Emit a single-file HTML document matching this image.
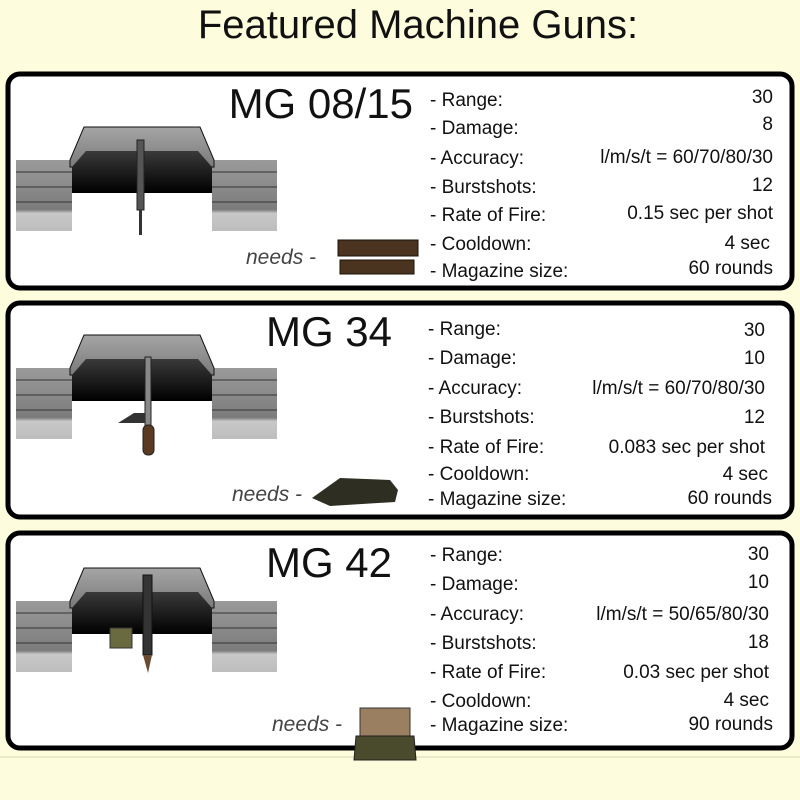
<!DOCTYPE html>
<html><head><meta charset="utf-8"><style>
html,body{margin:0;padding:0;background:#fdfcdc;}
svg{display:block}
text{font-family:"Liberation Sans",sans-serif;fill:#111}
.l{font-size:19px}
.v{font-size:19px;text-anchor:end}
.t{font-size:42px}
.n{font-size:21px;font-style:italic;fill:#444}
</style></head><body>
<svg width="800" height="800" viewBox="0 0 800 800" xmlns="http://www.w3.org/2000/svg">
<defs>
<linearGradient id="dk" x1="0" y1="0" x2="0" y2="1"><stop offset="0" stop-color="#3a3a3a"/><stop offset="1" stop-color="#000"/></linearGradient>
<linearGradient id="wd" x1="0" y1="0" x2="0" y2="1"><stop offset="0" stop-color="#9a9a9a"/><stop offset="0.7" stop-color="#7c7c7c"/><stop offset="0.75" stop-color="#c8c8c8"/><stop offset="1" stop-color="#bdbdbd"/></linearGradient>
<linearGradient id="tp" x1="0" y1="0" x2="0" y2="1"><stop offset="0" stop-color="#a5a5a5"/><stop offset="1" stop-color="#7a7a7a"/></linearGradient>
<g id="trench">
<rect x="0" y="33" width="56" height="71" fill="url(#wd)"/>
<rect x="196" y="33" width="65" height="71" fill="url(#wd)"/>
<g stroke="#333" stroke-width="1"><line x1="0" y1="45" x2="56" y2="45"/><line x1="0" y1="60" x2="56" y2="60"/><line x1="0" y1="75" x2="56" y2="75"/><line x1="196" y1="45" x2="261" y2="45"/><line x1="196" y1="60" x2="261" y2="60"/><line x1="196" y1="75" x2="261" y2="75"/></g>
<polygon points="54,33 68,0 184,0 198,33 198,40 54,40" fill="url(#tp)" stroke="#111"/>
<polygon points="56,40 70,24 182,24 196,40 196,66 56,66" fill="url(#dk)"/>
<rect x="56" y="66" width="140" height="38" fill="#fff"/>
</g>
</defs>
<text x="418" y="38" class="t" text-anchor="middle" style="font-size:40px">Featured Machine Guns:</text>

<rect x="8" y="74" width="784" height="214" rx="12" fill="#fff" stroke="#000" stroke-width="5"/>
<rect x="8" y="303" width="784" height="214" rx="12" fill="#fff" stroke="#000" stroke-width="5"/>
<rect x="8" y="533" width="784" height="215" rx="12" fill="#fff" stroke="#000" stroke-width="5"/>
<line x1="0" y1="757" x2="800" y2="757" stroke="#d8d6b4" stroke-width="1"/>

<!-- Panel 1 -->
<use href="#trench" x="16" y="127"/>
<rect x="137" y="140" width="7" height="70" fill="#555" stroke="#222"/>
<rect x="139" y="210" width="3" height="25" fill="#333"/>
<text x="413" y="118" class="t" text-anchor="end">MG 08/15</text>
<text x="246" y="264" class="n">needs -</text>
<g fill="#4a3420" stroke="#1a1208"><rect x="338" y="240" width="80" height="16"/><rect x="340" y="260" width="74" height="14"/></g>
<text x="430" y="106" class="l">- Range:</text><text x="773" y="103" class="v">30</text>
<text x="430" y="134" class="l">- Damage:</text><text x="773" y="130" class="v">8</text>
<text x="430" y="164" class="l">- Accuracy:</text><text x="773" y="163" class="v">l/m/s/t = 60/70/80/30</text>
<text x="430" y="193" class="l">- Burstshots:</text><text x="773" y="191" class="v">12</text>
<text x="430" y="221" class="l">- Rate of Fire:</text><text x="773" y="219" class="v">0.15 sec per shot</text>
<text x="430" y="250" class="l">- Cooldown:</text><text x="770" y="249" class="v">4 sec</text>
<text x="430" y="277" class="l">- Magazine size:</text><text x="773" y="274" class="v">60 rounds</text>

<!-- Panel 2 -->
<use href="#trench" x="16" y="335"/>
<rect x="145" y="357" width="6" height="70" fill="#888" stroke="#222"/>
<rect x="143" y="425" width="11" height="30" rx="5" fill="#5a3a22" stroke="#222"/>
<polygon points="118,423 134,413 145,413 145,423" fill="#333"/>
<text x="392" y="346" class="t" text-anchor="end">MG 34</text>
<text x="232" y="501" class="n">needs -</text>
<polygon points="312,498 340,478 390,480 398,490 395,502 330,506" fill="#2e2e22"/>
<text x="428" y="335" class="l">- Range:</text><text x="765" y="336" class="v">30</text>
<text x="428" y="364" class="l">- Damage:</text><text x="765" y="364" class="v">10</text>
<text x="428" y="394" class="l">- Accuracy:</text><text x="765" y="394" class="v">l/m/s/t = 60/70/80/30</text>
<text x="428" y="423" class="l">- Burstshots:</text><text x="765" y="423" class="v">12</text>
<text x="428" y="453" class="l">- Rate of Fire:</text><text x="765" y="453" class="v">0.083 sec per shot</text>
<text x="428" y="480" class="l">- Cooldown:</text><text x="768" y="480" class="v">4 sec</text>
<text x="428" y="505" class="l">- Magazine size:</text><text x="772" y="504" class="v">60 rounds</text>

<!-- Panel 3 -->
<use href="#trench" x="16" y="568"/>
<rect x="143" y="575" width="9" height="80" fill="#333" stroke="#111"/>
<polygon points="143,655 152,655 148,673" fill="#6a4a30"/>
<rect x="110" y="628" width="22" height="20" fill="#6a6a40" stroke="#333"/>
<text x="392" y="577" class="t" text-anchor="end">MG 42</text>
<text x="272" y="731" class="n">needs -</text>
<rect x="360" y="708" width="50" height="28" fill="#9a8060" stroke="#333"/>
<polygon points="356,736 414,736 416,760 354,760" fill="#4a4a2c" stroke="#222"/>
<text x="430" y="561" class="l">- Range:</text><text x="769" y="560" class="v">30</text>
<text x="430" y="590" class="l">- Damage:</text><text x="769" y="588" class="v">10</text>
<text x="430" y="620" class="l">- Accuracy:</text><text x="769" y="620" class="v">l/m/s/t = 50/65/80/30</text>
<text x="430" y="649" class="l">- Burstshots:</text><text x="769" y="648" class="v">18</text>
<text x="430" y="678" class="l">- Rate of Fire:</text><text x="769" y="678" class="v">0.03 sec per shot</text>
<text x="430" y="707" class="l">- Cooldown:</text><text x="769" y="706" class="v">4 sec</text>
<text x="430" y="731" class="l">- Magazine size:</text><text x="773" y="730" class="v">90 rounds</text>
</svg>
</body></html>
